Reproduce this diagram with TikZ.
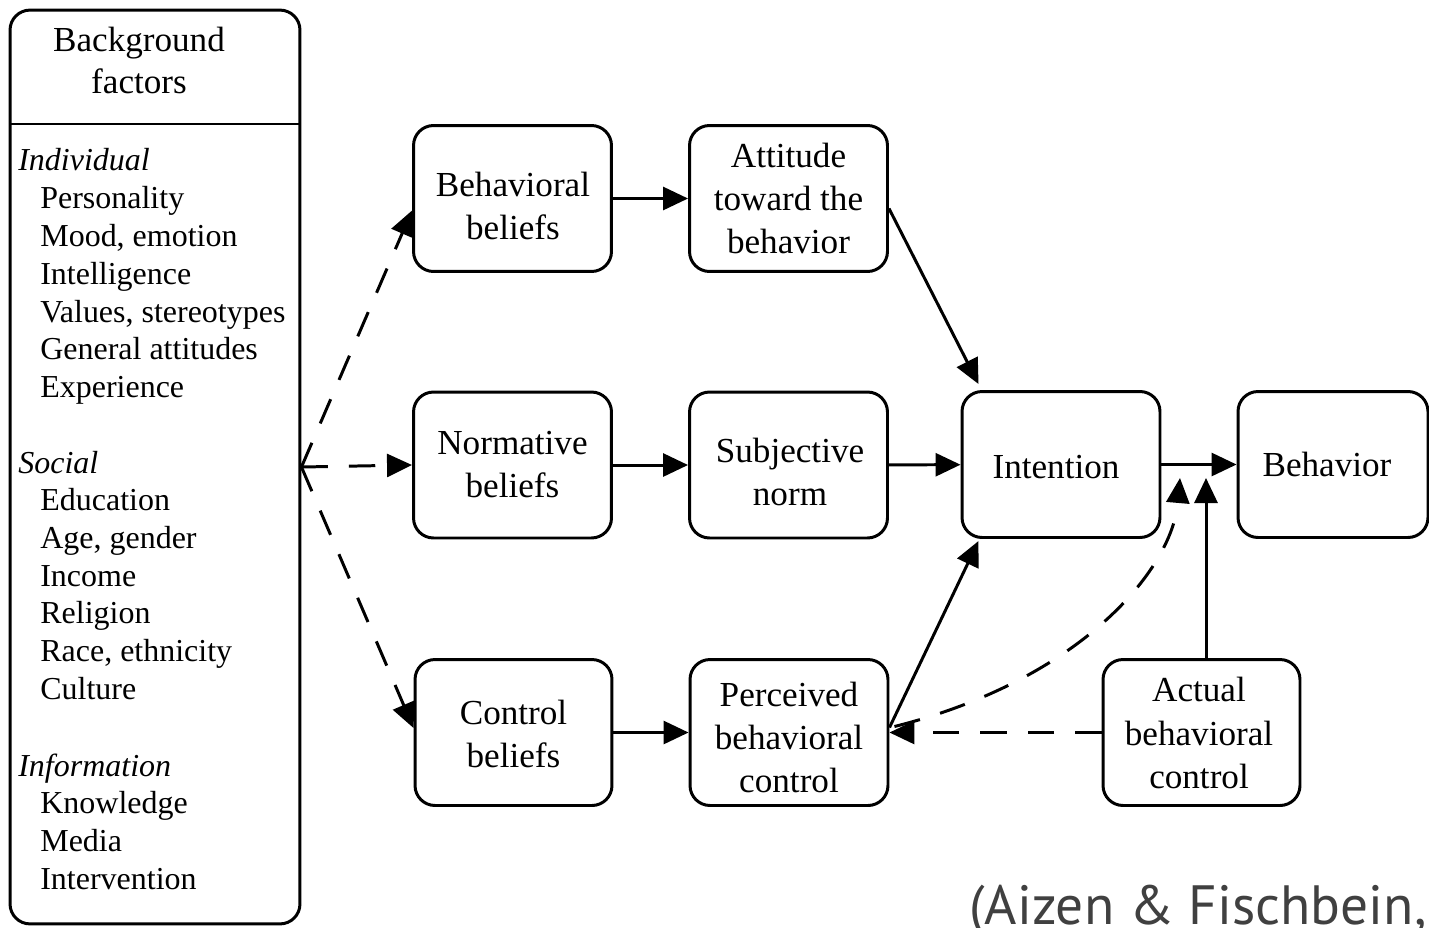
\documentclass[tikz,border=0pt]{standalone}
\usepackage{fontspec}
\setmainfont{Liberation Serif}
\newfontfamily\citefont{PT Sans}
\usetikzlibrary{arrows.meta}
\definecolor{citegray}{HTML}{404040}
\begin{document}
\begin{tikzpicture}[x=0.02cm,y=-0.02cm,
  box/.style={draw, line width=1.7pt, rounded corners=0.4cm, minimum width=3.96cm,
    minimum height=2.92cm, inner sep=0},
  boxtext/.style={align=center, inner sep=0, font=\fontsize{20}{24.5}\selectfont},
  arr/.style={line width=1.7pt, -{Triangle[length=0.5cm,width=0.46cm]}},
  dsh/.style={arr, dash pattern=on 15pt off 12pt},
  item/.style={anchor=base west, inner sep=0, font=\fontsize{18.2}{21}\selectfont}]
\clip (0,0) rectangle (1429,927);
\fill[white] (0,0) rectangle (1429,927);

% background factors box
\node[draw, line width=1.7pt, rounded corners=0.4cm, minimum width=5.8cm,
  minimum height=18.28cm, inner sep=0] (bg) at (155,467) {};
\coordinate (divl) at (10,124);
\coordinate (divr) at (300,124);
\draw[line width=1.7pt] (divl) -- (divr);
\node[align=center, inner sep=0, font=\fontsize{20}{23.9}\selectfont] (bgtitle) at (139,60) {Background\\factors};

\node[item, font=\fontsize{18.2}{21}\selectfont\itshape] (h1) at (18,170) {Individual};
\node[item, font=\fontsize{18.2}{21}\selectfont\itshape] (h2) at (18,473) {Social};
\node[item, font=\fontsize{18.2}{21}\selectfont\itshape] (h3) at (18,776) {Information};
\foreach \yy/\tt [count=\i] in {208/Personality, 246/{Mood, emotion}, 284/Intelligence,
  322/{Values, stereotypes}, 359/General attitudes, 397/Experience,
  510/Education, 548/{Age, gender}, 586/Income, 623/Religion, 661/{Race, ethnicity},
  699/Culture, 813/Knowledge, 851/Media, 889/Intervention}
  \node[item] (it\i) at (40,\yy) {\tt};

% boxes
\node[box] (bb) at (512.5,198.5) {};
\node[box] (att) at (788.5,198.5) {};
\node[box] (nb) at (512.5,465) {};
\node[box] (sn) at (788.5,465) {};
\node[box] (int) at (1061,464.5) {};
\node[box, minimum width=3.8cm] (beh) at (1333,464.5) {};
\node[box, minimum width=3.94cm] (cb) at (513.5,732.5) {};
\node[box] (pbc) at (789,732.5) {};
\node[box, minimum width=3.94cm] (abc) at (1201.5,732.5) {};

% box texts
\node[boxtext] (bbt) at (513,206) {Behavioral\\beliefs};
\node[boxtext] (attt) at (788.5,198.5) {Attitude\\toward the\\behavior};
\node[boxtext] (nbt) at (512.5,465) {Normative\\beliefs};
\node[boxtext] (snt) at (790,472) {Subjective\\norm};
\node[boxtext] (intt) at (1056,467) {Intention};
\node[boxtext] (beht) at (1327,464.5) {Behavior};
\node[boxtext] (cbt) at (513.5,733.5) {Control\\beliefs};
\node[boxtext] (pbct) at (789,737.5) {Perceived\\behavioral\\control};
\node[boxtext] (abct) at (1199,733) {Actual\\behavioral\\control};

% dashed arrows from background factors
\draw[dsh] (bg.east) -- ([yshift=-0.24cm]bb.west);
\draw[dsh] (bg.east) -- (nb.west);
\draw[dsh] (bg.east) -- ([yshift=0.09cm]cb.west);

% solid arrows
\draw[arr] (bb) -- (att);
\draw[arr] (nb) -- (sn);
\draw[arr] (cb) -- (pbc);
\draw[arr] (sn) -- (int);
\draw[arr] (int) -- (beh);
\draw[arr] ([yshift=-0.2cm]att.east) -- ([xshift=0.36cm,yshift=0.12cm]int.north west);
\draw[arr] ([yshift=0.1cm]pbc.east) -- ([xshift=0.36cm,yshift=-0.04cm]int.south west);

\coordinate (m1) at (1180,478);
\coordinate (m2) at (1206,478);
\draw[arr] (abc.north -| m2) -- (m2);
\draw[dsh] (abc.west) -- (pbc.east);
\draw[dsh] ([xshift=0.1cm,yshift=0.12cm]pbc.east) .. controls (1080,680) and (1172,570) .. (m1);

% citation
\node[anchor=base west, inner sep=0, text=citegray,
  font=\citefont\fontsize{31.5}{31.5}\selectfont] (cite) at (969,924) {(Aizen \& Fischbein,};
\end{tikzpicture}
\end{document}
